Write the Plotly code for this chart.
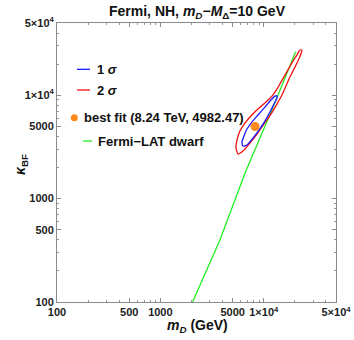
import plotly.graph_objects as go
import math

# ---- data ----
red_x = [5630, 6292, 7354, 8595, 10044, 11738, 13417, 14997, 16395, 17922, 19595, 21422, 22899, 23411,
         22393, 20949, 19158, 17527, 16032, 14666, 13417, 12003, 10503, 8788, 7517, 6580, 5886, 5506, 5384, 5630]
red_y = [2700, 2886, 3448, 4215, 5267, 6580, 8220, 10044, 12274, 14997, 17922, 21420, 25040, 27363,
         27363, 24487, 21420, 18330, 15682, 13417, 11482, 9824, 8595, 7354, 6292, 5384, 4506, 3687, 3155, 2700]

blue_x = [6292, 6879, 7860, 8986, 10270, 11482, 12548, 13417, 13417, 12831, 11738, 10270, 8788, 7686, 6879, 6435, 6154, 6292]
blue_y = [3226, 3299, 3855, 4607, 5630, 6879, 8220, 9395, 9824, 9824, 8986, 7686, 6435, 5506, 4711, 4031, 3527, 3226]

green_x = [2050, 3770, 6580, 12360, 20345]
green_y = [100, 398, 1758, 7745, 26340]

best_x = [8240]
best_y = [4982.47]

x_ticks = [100, 500, 1000, 5000, 10000, 50000]
x_ticktext = ["100", "500", "1000", "5000", "1×10<sup>4</sup>", "5×10<sup>4</sup>"]
y_ticks = [100, 500, 1000, 5000, 10000, 50000]
y_ticktext = ["100", "500", "1000", "5000", "1×10<sup>4</sup>", "5×10<sup>4</sup>"]
minor_ticks = [200, 300, 400, 600, 700, 800, 900, 2000, 3000, 4000, 6000, 7000, 8000, 9000,
               20000, 30000, 40000]

legend_labels = ["1 <i>σ</i>", "2 <i>σ</i>", "best fit (8.24 TeV, 4982.47)", "Fermi−LAT dwarf"]

BLUE = "#1a1aff"
RED = "#f01010"
GREEN = "#22ee22"
ORANGE = "#ff8a1c"
FONT = "Liberation Sans"

fig = go.Figure()
fig.add_trace(go.Scatter(x=green_x, y=green_y, mode="lines", name="Fermi−LAT dwarf",
                         line=dict(color=GREEN, width=1.3), showlegend=False))
fig.add_trace(go.Scatter(x=red_x, y=red_y, mode="lines", name="2 σ",
                         line=dict(color=RED, width=1.3, shape="spline", smoothing=0.6), showlegend=False))
fig.add_trace(go.Scatter(x=blue_x, y=blue_y, mode="lines", name="1 σ",
                         line=dict(color=BLUE, width=1.3, shape="spline", smoothing=0.6), showlegend=False))
fig.add_trace(go.Scatter(x=best_x, y=best_y, mode="markers", name="best fit",
                         marker=dict(color=ORANGE, size=9), showlegend=False))

axis_common = dict(
    type="log", showgrid=False, zeroline=False, automargin=False,
    showline=True, linecolor="#8a8a8a", linewidth=1, mirror="ticks",
    ticks="inside", ticklen=4, tickcolor="#8a8a8a", tickwidth=1,
    tickfont=dict(family=FONT, size=11, color="#222", weight="bold"),
    tickmode="array",
    minor=dict(ticks="inside", ticklen=2, tickcolor="#9a9a9a", tickmode="array", tickvals=minor_ticks, showgrid=False),
)
fig.update_xaxes(**axis_common, range=[2, math.log10(50000)], tickvals=x_ticks, ticktext=x_ticktext)
fig.update_yaxes(**axis_common, range=[2, math.log10(50000)], tickvals=y_ticks, ticktext=y_ticktext)

# ---- legend (drawn manually, Mathematica-style) ----
def px(x):
    return (x - 57) / 279.0

def py(y):
    return (302 - y) / 279.0

shapes = []
ann = []
leg_font = dict(family=FONT, size=13, color="#111", weight="bold")
# 1 sigma
shapes.append(dict(type="line", xref="paper", yref="paper", x0=px(77), x1=px(90), y0=py(69.3), y1=py(69.3),
                   line=dict(color=BLUE, width=1.3)))
ann.append(dict(text=legend_labels[0], x=px(95), y=py(69.3), xref="paper", yref="paper",
                xanchor="left", yanchor="middle", showarrow=False, font=leg_font))
# 2 sigma
shapes.append(dict(type="line", xref="paper", yref="paper", x0=px(77), x1=px(90), y0=py(90), y1=py(90),
                   line=dict(color=RED, width=1.3)))
ann.append(dict(text=legend_labels[1], x=px(95), y=py(90), xref="paper", yref="paper",
                xanchor="left", yanchor="middle", showarrow=False, font=leg_font))
# best fit
shapes.append(dict(type="circle", xref="paper", yref="paper", xsizemode="pixel", ysizemode="pixel",
                   xanchor=px(74.3), yanchor=py(117.7), x0=-3.5, x1=3.5, y0=-3.5, y1=3.5,
                   fillcolor=ORANGE, line=dict(width=0)))
ann.append(dict(text=legend_labels[2], x=px(82), y=py(117.5), xref="paper", yref="paper",
                xanchor="left", yanchor="middle", showarrow=False, font=leg_font))
# Fermi-LAT
shapes.append(dict(type="line", xref="paper", yref="paper", x0=px(83), x1=px(92), y0=py(141), y1=py(141),
                   line=dict(color=GREEN, width=1.3)))
ann.append(dict(text=legend_labels[3], x=px(96), y=py(141), xref="paper", yref="paper",
                xanchor="left", yanchor="middle", showarrow=False, font=leg_font))

# titles
ann.append(dict(text="Fermi, NH, <i>m</i><sub><i>D</i></sub>−<i>M</i><sub>Δ</sub>=10 GeV",
                x=px(197), y=py(12), xref="paper", yref="paper", xanchor="center", yanchor="middle",
                showarrow=False, font=dict(family=FONT, size=14, color="#111", weight="bold")))
ann.append(dict(text="<i>m</i><sub><i>D</i></sub> (GeV)",
                x=px(197), y=py(326), xref="paper", yref="paper", xanchor="center", yanchor="middle",
                showarrow=False, font=dict(family=FONT, size=14, color="#111", weight="bold")))
ann.append(dict(text="<i>κ</i><sub>BF</sub>",
                x=px(21), y=py(165), xref="paper", yref="paper", xanchor="center", yanchor="middle",
                textangle=-90, showarrow=False, font=dict(family=FONT, size=14, color="#111", weight="bold")))

fig.update_layout(
    width=354, height=340,
    margin=dict(l=57, r=18, t=23, b=38),
    paper_bgcolor="white", plot_bgcolor="white",
    shapes=shapes, annotations=ann, showlegend=False,
)

fig.write_html("out.html", config={"displayModeBar": False},
               post_script="document.body.style.margin='0';document.body.style.padding='0';")
